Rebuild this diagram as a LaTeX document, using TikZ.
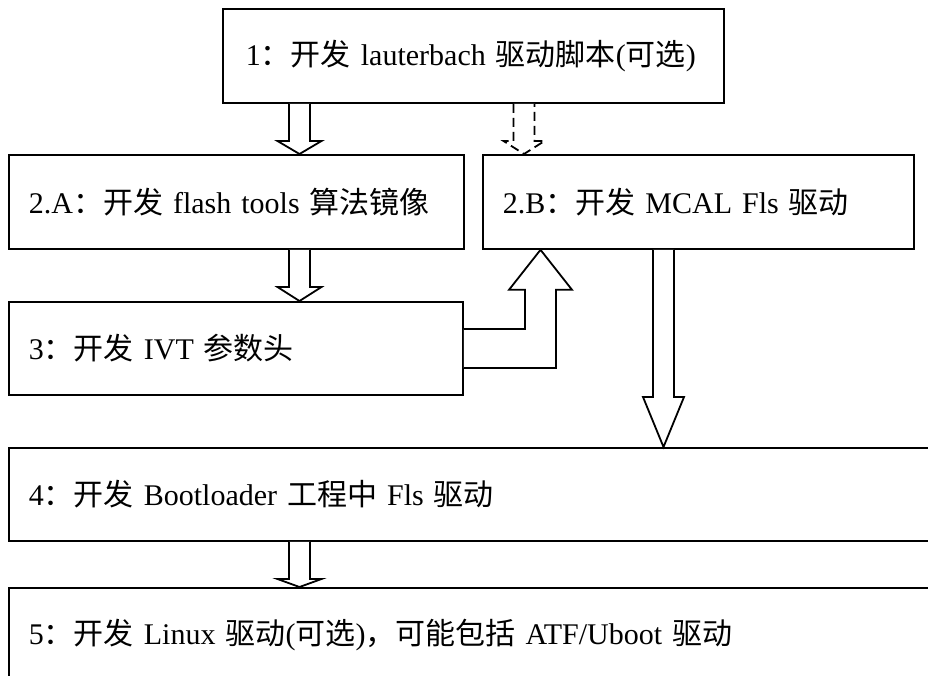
\documentclass[tikz,border=0pt]{standalone}
\usepackage{fontspec}
\setmainfont{Liberation Serif}
\newfontfamily\cjkfont{Noto Sans CJK SC}
\newcommand\zhtext[1]{{\cjkfont #1}}
\usetikzlibrary{calc}

\tikzset{
  stagebox/.style={draw, line width=1.8pt, rectangle, anchor=north west,
    inner xsep=20pt, inner ysep=0pt, align=left,
    font=\fontsize{30}{35}\selectfont},
  blockarrow/.style={draw, line width=1.8pt, line join=miter, fill=white},
  optarrow/.style={blockarrow, dash pattern=on 9pt off 5pt},
}

% Hollow block arrow pointing down.
% #1 style, #2 column coordinate, #3 upper anchor, #4 lower anchor,
% #5 half shaft width, #6 half head width, #7 head length
\newcommand\blockdown[7]{%
  \draw[#1] let \p1=(#3 -| #2), \p2=(#4 -| #2) in
    (\x1-#5pt,\y1) -- (\x1-#5pt,\y2+#7pt) -- (\x1-#6pt,\y2+#7pt) -- (\x1,\y2)
    -- (\x1+#6pt,\y2+#7pt) -- (\x1+#5pt,\y2+#7pt) -- (\x1+#5pt,\y1);%
}

\begin{document}
\begin{tikzpicture}[x=1pt,y=-1pt]
  \useasboundingbox (0,0) rectangle (928,675);
  \clip (0,0) rectangle (928,675);

  % process stages
  \node[stagebox, inner xsep=23pt, minimum width=501pt, minimum height=94pt, text width=455pt] (b1) at (222,8)
    {1\zhtext{：开发} lauterbach \zhtext{驱动脚本}(\zhtext{可选})};
  \node[stagebox, minimum width=455pt, minimum height=94pt, text width=415pt] (b2a) at (8,154)
    {2.A\zhtext{：开发} flash tools \zhtext{算法镜像}};
  \node[stagebox, minimum width=431pt, minimum height=94pt, text width=391pt] (b2b) at (482,154)
    {2.B\zhtext{：开发} MCAL Fls \zhtext{驱动}};
  \node[stagebox, minimum width=454pt, minimum height=93pt, text width=414pt] (b3) at (8,301)
    {3\zhtext{：开发} IVT \zhtext{参数头}};
  \node[stagebox, minimum width=940pt, minimum height=93pt, text width=900pt] (b4) at (8,447)
    {4\zhtext{：开发} Bootloader \zhtext{工程中} Fls \zhtext{驱动}};
  \node[stagebox, minimum width=940pt, minimum height=94pt, text width=900pt] (b5) at (8,587)
    {5\zhtext{：开发} Linux \zhtext{驱动}(\zhtext{可选})\zhtext{，可能包括} ATF/Uboot \zhtext{驱动}};

  % arrow columns
  \coordinate (colA) at (299.5,0);
  \coordinate (colOpt) at (524,0);
  \coordinate (colB) at (663.5,0);
  \coordinate (colL) at (540.5,0);

  % connectors
  \blockdown{blockarrow}{colA}{b1.south}{b2a.north}{10.5}{22}{13}
  \blockdown{optarrow}{colOpt}{b1.south}{b2b.north}{10.5}{20.5}{13}
  \blockdown{blockarrow}{colA}{b2a.south}{b3.north}{10.5}{22}{14}
  \blockdown{blockarrow}{colB}{b2b.south}{b4.north}{10.5}{20.5}{50}
  \blockdown{blockarrow}{colA}{b4.south}{b5.north}{10.5}{22}{8}

  % bent arrow from stage 3 up into stage 2.B
  \draw[blockarrow] let \p1=(b3.east), \p2=(b2b.south -| colL) in
    (\x1,\y1+19.5pt) -- (\x2-15.5pt,\y1+19.5pt) -- (\x2-15.5pt,\y2-40pt)
    -- (\x2-31.5pt,\y2-40pt) -- (\x2,\y2) -- (\x2+31.5pt,\y2-40pt)
    -- (\x2+15.5pt,\y2-40pt) -- (\x2+15.5pt,\y1-19.5pt) -- (\x1,\y1-19.5pt);
\end{tikzpicture}
\end{document}
